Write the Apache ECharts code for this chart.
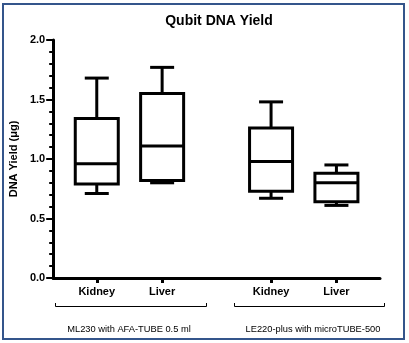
<!DOCTYPE html>
<html>
<head>
<meta charset="utf-8">
<script src="https://cdn.jsdelivr.net/npm/echarts@6/dist/echarts.min.js"></script>
<style>html,body{margin:0;padding:0;background:#fff}#c{width:409px;height:343px}</style>
</head>
<body>
<div id="c"></div>
<script>
// ---- data ----
const categories = ['Kidney', 'Liver', 'Kidney', 'Liver'];
const groups = ['ML230 with AFA-TUBE 0.5 ml', 'LE220-plus with microTUBE-500'];
const mins    = [0.71, 0.80, 0.67, 0.61];
const q1s     = [0.79, 0.82, 0.73, 0.64];
const medians = [0.96, 1.11, 0.98, 0.80];
const q3s     = [1.34, 1.55, 1.26, 0.88];
const maxs    = [1.68, 1.77, 1.48, 0.95];
const yTicks  = [0, 0.5, 1.0, 1.5, 2.0];

// ---- layout ----
const slotPositions = [2, 5, 10, 13];
const FONT = 'Liberation Sans, Arial, sans-serif';

const chart = echarts.init(document.getElementById('c'), null, {renderer: 'canvas'});
const boxData = categories.map((c, i) => [slotPositions[i], mins[i], q1s[i], medians[i], q3s[i], maxs[i]]);

chart.setOption({
  animation: false,
  backgroundColor: '#fff',
  title: {
    text: 'Qubit DNA Yield', left: 214, top: 9, textAlign: 'center',
    textStyle: {fontFamily: FONT, fontSize: 14, fontWeight: 'bold', color: '#000'}
  },
  grid: {left: 49, right: 29, top: 40, bottom: 65},
  xAxis: {
    type: 'value', min: 0, max: 15,
    splitLine: {show: false},
    axisLine: {show: true, onZero: false, lineStyle: {color: '#000', width: 3}},
    axisTick: {show: true, customValues: slotPositions, length: 5, lineStyle: {color: '#000', width: 3}},
    axisLabel: {
      customValues: slotPositions,
      formatter: v => categories[slotPositions.indexOf(v)] || '',
      fontFamily: FONT, fontSize: 11, fontWeight: 'bold', color: '#000', margin: 8
    }
  },
  yAxis: {
    type: 'value', min: yTicks[0], max: yTicks[yTicks.length - 1], interval: 0.5,
    name: 'DNA Yield (\u03bcg)', nameLocation: 'middle', nameGap: 26,
    nameTextStyle: {fontFamily: FONT, fontSize: 11, fontWeight: 'bold', color: '#000'},
    splitLine: {show: false},
    axisLine: {show: true, lineStyle: {color: '#000', width: 3}},
    axisTick: {show: true, length: 7, lineStyle: {color: '#000', width: 2}},
    minorTick: {show: true, splitNumber: 5, length: 4, lineStyle: {color: '#000', width: 2}},
    axisLabel: {
      formatter: v => v.toFixed(1),
      fontFamily: FONT, fontSize: 11, fontWeight: 'bold', color: '#000', margin: 8
    }
  },
  series: [{
    type: 'custom',
    data: boxData,
    renderItem: function (params, api) {
      const x = api.value(0);
      const lo = api.coord([x, api.value(1)]);
      const q1 = api.coord([x, api.value(2)]);
      const md = api.coord([x, api.value(3)]);
      const q3 = api.coord([x, api.value(4)]);
      const hi = api.coord([x, api.value(5)]);
      const cx = lo[0], hb = 21.5, hc = 12;
      const ls = {stroke: '#000', lineWidth: 3};
      return {
        type: 'group',
        children: [
          {type: 'line', shape: {x1: cx, y1: q3[1], x2: cx, y2: hi[1]}, style: ls},
          {type: 'line', shape: {x1: cx - hc, y1: hi[1], x2: cx + hc, y2: hi[1]}, style: ls},
          {type: 'line', shape: {x1: cx, y1: q1[1], x2: cx, y2: lo[1]}, style: ls},
          {type: 'line', shape: {x1: cx - hc, y1: lo[1], x2: cx + hc, y2: lo[1]}, style: ls},
          {type: 'rect', shape: {x: cx - hb, y: q3[1], width: 2 * hb, height: q1[1] - q3[1]},
            style: {stroke: '#000', lineWidth: 3, fill: '#fff'}},
          {type: 'line', shape: {x1: cx - hb, y1: md[1], x2: cx + hb, y2: md[1]}, style: ls}
        ]
      };
    }
  }],
  graphic: [
    {type: 'rect', shape: {x: 3, y: 4, width: 401, height: 335}, style: {stroke: '#34558b', lineWidth: 2, fill: null}, silent: true},
    {type: 'polyline', shape: {points: [[55.5, 303], [55.5, 306.5], [206.5, 306.5], [206.5, 303]]}, style: {stroke: '#000', lineWidth: 1, fill: null}},
    {type: 'polyline', shape: {points: [[234.5, 303], [234.5, 306.5], [384.5, 306.5], [384.5, 303]]}, style: {stroke: '#000', lineWidth: 1, fill: null}},
    {type: 'text', x: 129, y: 329, style: {text: groups[0], fontFamily: FONT, fontSize: 9.3, fill: '#000', textAlign: 'center', textVerticalAlign: 'middle'}},
    {type: 'text', x: 313, y: 329, style: {text: groups[1], fontFamily: FONT, fontSize: 9.3, fill: '#000', textAlign: 'center', textVerticalAlign: 'middle'}}
  ]
});
</script>
</body>
</html>
